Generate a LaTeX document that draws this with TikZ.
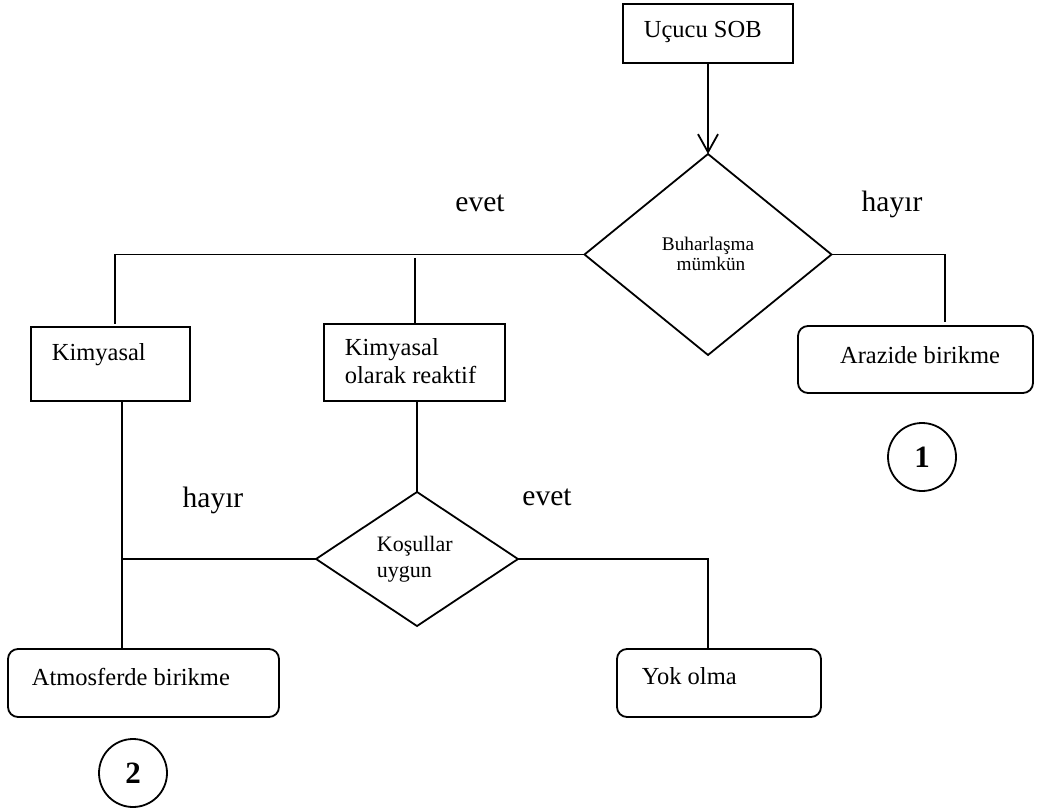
\documentclass[tikz,border=0pt]{standalone}
\usepackage{fontspec}
\setmainfont{Liberation Serif}
\usetikzlibrary{shapes.geometric,arrows.meta}
\begin{document}
\begin{tikzpicture}[x=1pt,y=-1pt,line width=1.8pt,
  sqbox/.style={draw,rectangle,inner sep=0pt,outer sep=0pt},
  rndbox/.style={draw,rectangle,rounded corners=10pt,inner sep=0pt,outer sep=0pt},
  decision/.style={draw,diamond,inner sep=0pt,outer sep=0pt},
  marker/.style={draw,circle,inner sep=0pt,minimum size=68pt,
    font=\bfseries\fontsize{31}{36}\selectfont},
  boxtext/.style={inner sep=0pt,anchor=base west,font=\fontsize{24.5}{29}\selectfont},
  branch/.style={inner sep=0pt,anchor=base,font=\fontsize{29.5}{34}\selectfont},
  dtext/.style={inner sep=0pt,anchor=base,font=\fontsize{19.3}{23}\selectfont},
  ktext/.style={inner sep=0pt,anchor=base west,font=\fontsize{22}{26}\selectfont}]
\useasboundingbox (0,0) rectangle (1038,810);

% boxes
\node[sqbox,minimum width=170pt,minimum height=59pt] (sob) at (708,33.5) {};
\node[decision,minimum width=247pt,minimum height=201pt] (buh) at (708,254.5) {};
\node[sqbox,minimum width=159pt,minimum height=74pt] (kim) at (110.5,364) {};
\node[sqbox,minimum width=181pt,minimum height=77pt] (kimr) at (414.5,362.5) {};
\node[rndbox,minimum width=235pt,minimum height=67pt] (araz) at (915.5,359.5) {};
\node[decision,minimum width=202pt,minimum height=134pt] (kos) at (417,559) {};
\node[rndbox,minimum width=271pt,minimum height=68pt] (atm) at (143.5,683) {};
\node[rndbox,minimum width=204pt,minimum height=68pt] (yok) at (719,683) {};
\node[marker] (c1) at (922,457) {1};
\node[marker] (c2) at (133,773) {2};

% texts
\node[boxtext] (tsob) at (643,38) {Uçucu SOB};
\node[dtext] (tbuh1) at (708,251) {Buharlaşma};
\node[dtext] (tbuh2) at (711,271) {mümkün};
\node[boxtext] (tkim) at (51,360) {Kimyasal};
\node[boxtext] (tkimr1) at (344,355) {Kimyasal};
\node[boxtext] (tkimr2) at (344,383) {olarak reaktif};
\node[boxtext,anchor=base] (taraz) at (920,363) {Arazide birikme};
\node[ktext] (tkos1) at (376,551) {Koşullar};
\node[ktext] (tkos2) at (376,577) {uygun};
\node[boxtext] (tatm) at (31,685) {Atmosferde birikme};
\node[boxtext] (tyok) at (641,684) {Yok olma};

% branch labels
\node[branch] (evet1) at (480,212) {evet};
\node[branch] (hayir1) at (892,212) {hayır};
\node[branch] (hayir2) at (213,507) {hayır};
\node[branch] (evet2) at (547,505) {evet};

% junction points
\coordinate (jl) at (115,254.5);
\coordinate (jm) at (415,258);
\coordinate (jr) at (945,254.5);
\coordinate (jk) at (122,559);
\coordinate (jy) at (708,559);

% connectors
\draw[-{Straight Barb[length=18pt,width=20pt]}] (sob.south) -- (buh.north);
\draw (buh.west) -- (jl) -- ([yshift=3pt]jl |- kim.north);
\draw (jm) -- (jm |- kimr.north);
\draw (buh.east) -- (jr) -- ([yshift=4pt]jr |- araz.north);
\draw (jk |- kim.south) -- (jk |- atm.north);
\draw (kos.west) -- (jk);
\draw (kimr.south -| kos.north) -- (kos.north);
\draw (kos.east) -- (jy) -- (jy |- yok.north);
\end{tikzpicture}
\end{document}
